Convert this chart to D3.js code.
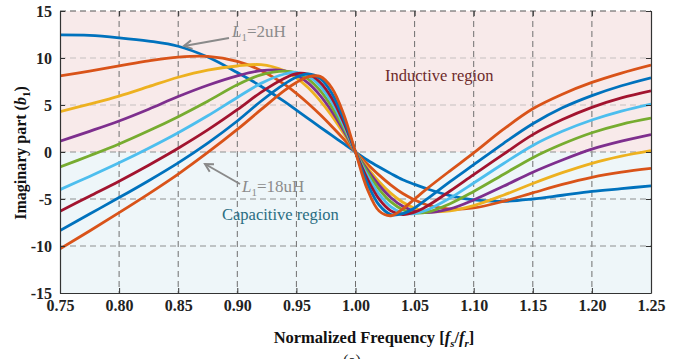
<!DOCTYPE html>
<html><head><meta charset="utf-8">
<script src="https://cdn.jsdelivr.net/npm/d3@7"></script>
<style>
body{margin:0;background:#fff}
svg{display:block}
text{font-family:"Liberation Serif","Times New Roman",serif}
</style>
</head><body>
<svg id="c" width="692" height="359"></svg>
<script>
// ---- data ----
const freq = [0.75,0.775,0.80,0.825,0.85,0.875,0.90,0.92,0.94,0.95,0.96,0.97,0.98,0.99,1.00,1.01,1.02,1.03,1.04,1.05,1.06,1.08,1.10,1.125,1.15,1.175,1.20,1.225,1.25];
const bL2  = [12.45,12.4,12.15,11.8,11.25,10.1,8.45,7.0,5.35,4.45,3.55,2.65,1.77,0.88,0,-0.85,-1.6,-2.3,-2.95,-3.45,-3.9,-4.65,-5.1,-5.25,-5.0,-4.6,-4.2,-3.9,-3.6];
const bL4  = [8.1,8.6,9.15,9.7,10.1,10.18,9.64,8.68,7.19,6.24,5.16,3.98,2.71,1.38,0,-1.27,-2.46,-3.52,-4.42,-5.1,-5.61,-6.08,-5.95,-5.25,-4.35,-3.45,-2.7,-2.15,-1.75];
const bL6  = [4.3,5.1,5.95,6.95,7.95,8.7,9.15,9.29,8.64,7.89,6.84,5.47,3.84,1.97,0,-1.65,-3.16,-4.4,-5.35,-5.98,-6.32,-6.25,-5.7,-4.6,-3.35,-2.2,-1.2,-0.45,0.14];
const bL8  = [1.15,2.2,3.3,4.55,5.9,7.1,8.1,8.65,8.64,8.18,7.32,6.02,4.31,2.26,0,-1.88,-3.54,-4.86,-5.77,-6.28,-6.45,-6.05,-5.1,-3.65,-2.15,-0.85,0.3,1.15,1.85];
const bL10 = [-1.6,-0.4,0.85,2.25,3.76,5.4,7.15,8.2,8.6,8.42,7.76,6.55,4.79,2.54,0,-2.13,-3.97,-5.31,-6.14,-6.48,-6.42,-5.5,-4.2,-2.4,-0.6,0.85,2.05,2.95,3.6];
const bL12 = [-4.0,-2.6,-1.15,0.4,2.05,3.85,5.8,7.3,8.3,8.48,8.08,7.02,5.28,2.84,0,-2.47,-4.49,-5.84,-6.49,-6.55,-6.2,-4.9,-3.3,-1.25,0.7,2.2,3.4,4.35,5.1];
const bL14 = [-6.3,-4.7,-3.1,-1.4,0.4,2.35,4.5,6.35,7.85,8.35,8.27,7.43,5.72,3.14,0,-2.84,-5.01,-6.26,-6.65,-6.4,-5.8,-4.15,-2.4,-0.25,1.85,3.45,4.75,5.75,6.5];
const bL16 = [-8.35,-6.6,-4.85,-3.05,-1.15,0.95,3.3,5.4,7.25,7.95,8.3,7.82,6.26,3.54,0,-3.33,-5.64,-6.66,-6.55,-5.95,-5.05,-3.15,-1.35,0.9,3.0,4.7,6.0,7.05,7.9];
const bL18 = [-10.3,-8.4,-6.45,-4.45,-2.35,-0.05,2.4,4.5,6.55,7.4,8.0,8.04,6.81,4.02,0,-3.96,-6.28,-6.78,-6.05,-5.0,-3.95,-2.0,-0.1,2.4,4.6,6.15,7.4,8.4,9.25];
const seriesNames = ["L1=2uH","L1=4uH","L1=6uH","L1=8uH","L1=10uH","L1=12uH","L1=14uH","L1=16uH","L1=18uH"];
const seriesColors = ["#0072BD","#D95319","#EDB120","#7E2F8E","#77AC30","#4DBEEE","#A2142F","#0072BD","#D95319"];
const xTicks = [0.75,0.80,0.85,0.90,0.95,1.00,1.05,1.10,1.15,1.20,1.25];
const yTicks = [-15,-10,-5,0,5,10,15];

const allSeries = [bL2,bL4,bL6,bL8,bL10,bL12,bL14,bL16,bL18];

// ---- drawing ----
const svg = d3.select("#c");
const x = d3.scaleLinear().domain([0.75,1.25]).range([60,651]);
const y = d3.scaleLinear().domain([-15,15]).range([293,11]);
const FONT = '"Liberation Serif","Times New Roman",serif';

// region backgrounds
svg.append("rect").attr("x",x(0.75)).attr("y",y(15)).attr("width",x(1.25)-x(0.75)).attr("height",y(0)-y(15)).attr("fill","#f8eaea");
svg.append("rect").attr("x",x(0.75)).attr("y",y(0)).attr("width",x(1.25)-x(0.75)).attr("height",y(-15)-y(0)).attr("fill","#eef6f9");

// grid
const grid = svg.append("g");
grid.selectAll("line.v").data(xTicks.slice(1,-1)).join("line")
  .attr("x1",d=>x(d)).attr("x2",d=>x(d)).attr("y1",y(15)).attr("y2",y(-15))
  .attr("stroke","#6f6f6f").attr("stroke-width",1).attr("stroke-dasharray","6,4");
grid.selectAll("line.h").data(yTicks.slice(1,-1)).join("line")
  .attr("x1",x(0.75)).attr("x2",x(1.25)).attr("y1",d=>y(d)).attr("y2",d=>y(d))
  .attr("stroke",d=>d>0?"#c6c0c0":"#8e9090").attr("stroke-width",1).attr("stroke-dasharray","6,4");
grid.append("line").attr("x1",x(0.75)).attr("x2",x(1.25)).attr("y1",y(15)).attr("y2",y(15))
  .attr("stroke","#555").attr("stroke-width",1).attr("stroke-dasharray","6,4");

// curves
svg.append("clipPath").attr("id","clip").append("rect")
  .attr("x",x(0.75)).attr("y",y(15)).attr("width",x(1.25)-x(0.75)).attr("height",y(-15)-y(15));
const line = d3.line().x((d,i)=>x(freq[i])).y(d=>y(d)).curve(d3.curveCatmullRom.alpha(0.5));
svg.append("g").attr("clip-path","url(#clip)").selectAll("path").data(allSeries).join("path")
  .attr("d",d=>line(d)).attr("fill","none")
  .attr("stroke",(d,i)=>seriesColors[i]).attr("stroke-width",2.8).attr("stroke-linejoin","round");

// axes
const fmtX = d=>d.toFixed(2);
const gx = svg.append("g").attr("transform",`translate(0,${y(-15)})`)
  .call(d3.axisBottom(x).tickValues(xTicks).tickFormat(fmtX).tickSizeInner(-5).tickSizeOuter(0).tickPadding(7));
const gy = svg.append("g").attr("transform",`translate(${x(0.75)},0)`)
  .call(d3.axisLeft(y).tickValues(yTicks).tickFormat(d=>String(d)).tickSizeInner(-5).tickSizeOuter(0).tickPadding(8));
const gr = svg.append("g").attr("transform",`translate(${x(1.25)},0)`)
  .call(d3.axisRight(y).tickValues(yTicks).tickFormat("").tickSizeInner(-5).tickSizeOuter(0));
const gt = svg.append("g").attr("transform",`translate(0,${y(15)})`)
  .call(d3.axisTop(x).tickValues(xTicks).tickFormat("").tickSizeInner(-5).tickSizeOuter(0));
[gx,gy,gr,gt].forEach(g=>{
  g.selectAll("text").attr("font-family",FONT).attr("font-size","16px").attr("font-weight","bold").attr("fill","#222");
  g.selectAll(".tick line").attr("stroke","#333");
});
gt.select(".domain").remove();
[gx,gy,gr].forEach(g=>g.select(".domain").attr("stroke","#333").attr("stroke-width",1.2));

// annotations
function arrow(x1,y1,x2,y2){
  svg.append("line").attr("x1",x1).attr("y1",y1).attr("x2",x2).attr("y2",y2)
    .attr("stroke","#8a8a8a").attr("stroke-width",2);
  const a = Math.atan2(y2-y1,x2-x1), L=9, s=0.5;
  const p = (ang)=>[x2-L*Math.cos(ang), y2-L*Math.sin(ang)];
  const [ax,ay]=p(a+s),[bx,by]=p(a-s);
  svg.append("path").attr("d",`M${ax},${ay}L${x2},${y2}L${bx},${by}`)
    .attr("fill","none").attr("stroke","#8a8a8a").attr("stroke-width",2);
}
arrow(229,38,184,46);
arrow(240,184,205,164);

function lLabel(xp,yp,val){
  const t = svg.append("text").attr("x",xp).attr("y",yp).attr("font-size","17px").attr("fill","#8c8c8c").attr("font-family",FONT);
  t.append("tspan").attr("font-style","italic").text("L");
  t.append("tspan").attr("font-size","11px").attr("dy",4).text("1");
  t.append("tspan").attr("dy",-4).text("="+val+"uH");
}
lLabel(232,37,"2");
lLabel(242,192,"18");

svg.append("text").attr("x",385).attr("y",81).attr("font-size","16.5px").attr("fill","#6e2b2b").attr("font-family",FONT).text("Inductive region");
svg.append("text").attr("x",222).attr("y",220).attr("font-size","16.5px").attr("fill","#2a6d82").attr("font-family",FONT).text("Capacitive region");

// axis titles
const yl = svg.append("text").attr("transform","translate(26,153) rotate(-90)").attr("text-anchor","middle")
  .attr("font-size","16px").attr("font-weight","bold").attr("fill","#111").attr("font-family",FONT);
yl.append("tspan").text("Imaginary part (");
yl.append("tspan").attr("font-style","italic").text("b");
yl.append("tspan").attr("font-size","11px").attr("dy",4).text("1");
yl.append("tspan").attr("dy",-4).text(")");

const xl = svg.append("text").attr("x",374).attr("y",343).attr("text-anchor","middle")
  .attr("font-size","16.5px").attr("font-weight","bold").attr("fill","#111").attr("font-family",FONT);
xl.append("tspan").text("Normalized Frequency [");
xl.append("tspan").attr("font-style","italic").text("f");
xl.append("tspan").attr("font-style","italic").attr("font-size","11px").attr("dy",4).text("s");
xl.append("tspan").attr("dy",-4).text("/");
xl.append("tspan").attr("font-style","italic").text("f");
xl.append("tspan").attr("font-style","italic").attr("font-size","11px").attr("dy",4).text("r");
xl.append("tspan").attr("dy",-4).text("]");

svg.append("text").attr("x",352).attr("y",366).attr("text-anchor","middle").attr("font-size","16px")
  .attr("fill","#222").attr("font-family",FONT).text("(a)");
</script>
</body></html>
